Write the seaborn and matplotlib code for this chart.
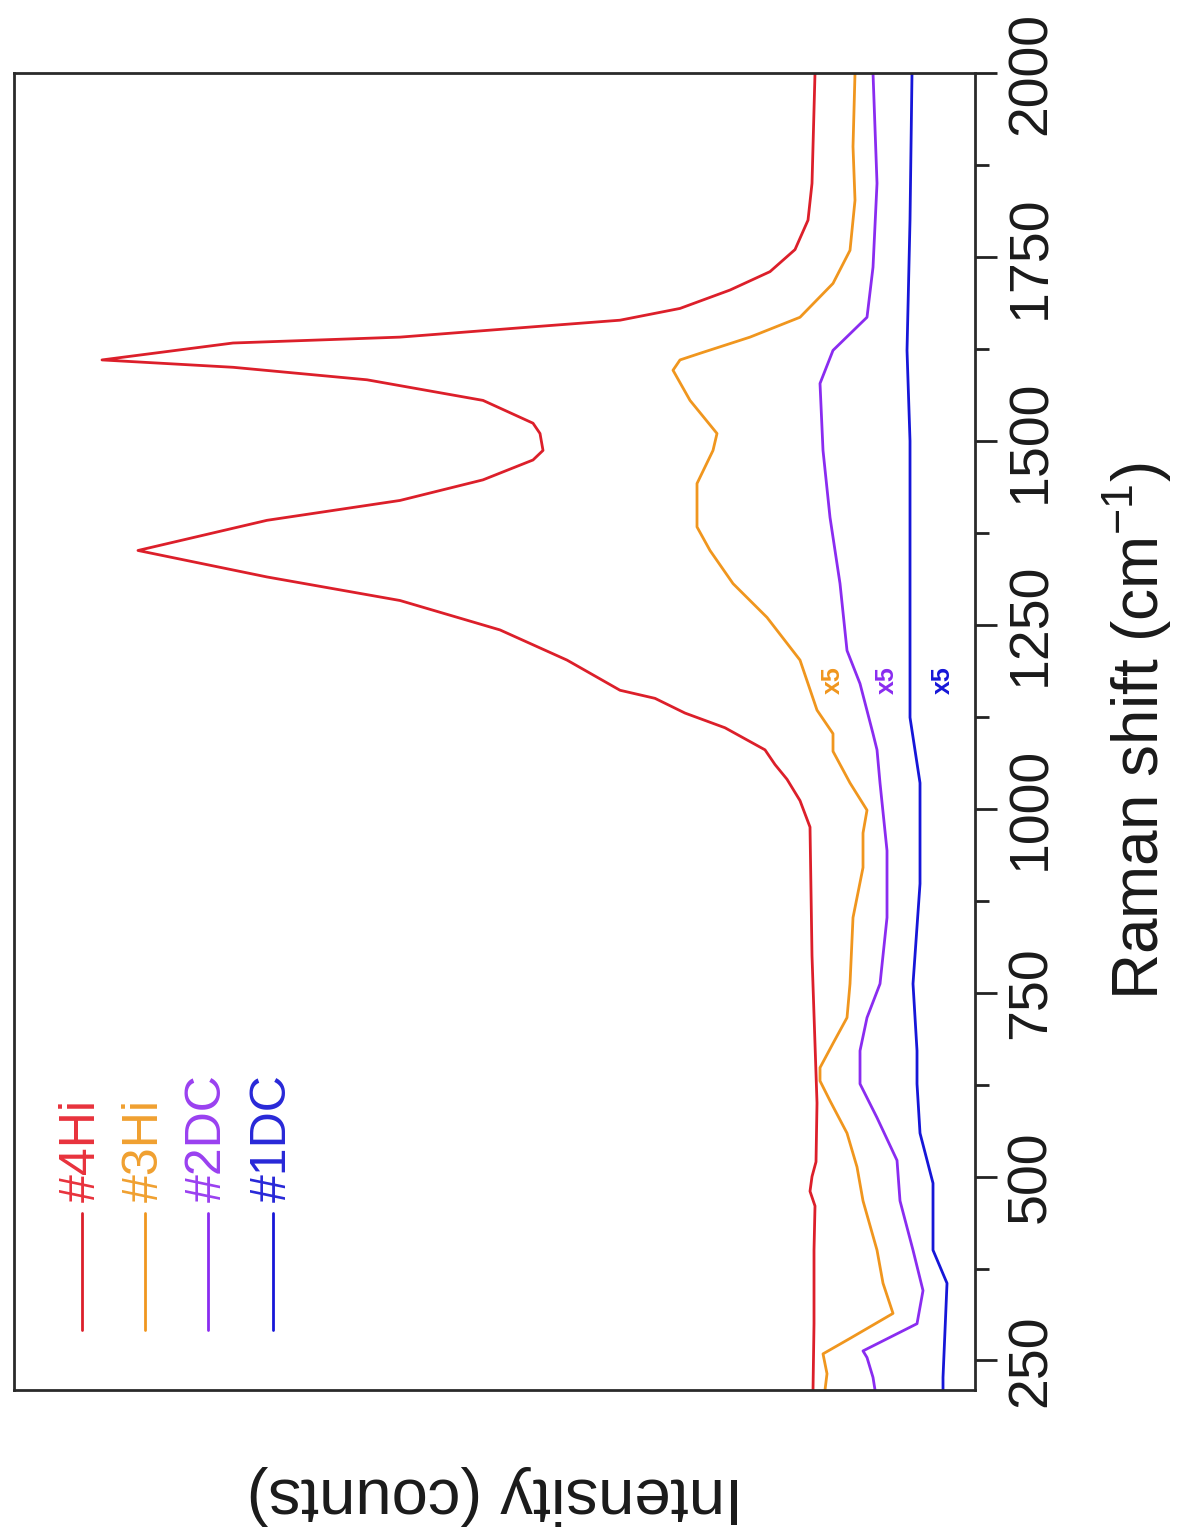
import pandas as pd
import matplotlib.pyplot as plt
import seaborn as sns
from matplotlib.lines import Line2D
from matplotlib.ticker import MultipleLocator


# ======================
# CONFIG
# ======================

sns.set_style("white")
plt.rcParams['font.family'] = ['Liberation Sans', 'DejaVu Sans']


# ======================
# DATA
# ======================

samples = ["#4Hi", "#3Hi", "#2DC", "#1DC"]
colors = ["#dc1f2a", "#f0961e", "#8a2cf0", "#1616d8"]
text_colors = ["#e8323c", "#f0a030", "#9a40f0", "#2828d8"]

raman_4hi = [210, 300, 400, 460, 480, 500, 520, 600, 800, 975, 1011, 1040,
             1060, 1080, 1110, 1130, 1150, 1161, 1202, 1243, 1283, 1315,
             1351, 1392, 1419, 1447, 1474, 1487, 1510, 1524, 1555, 1583,
             1600, 1610, 1633, 1641, 1655, 1664, 1680, 1705, 1730, 1760,
             1800, 1850, 2000]
counts_4hi = [162, 161, 161, 160, 165, 163, 159, 158, 163, 165, 175, 188,
              200, 210, 250, 290, 320, 355, 408, 475, 575, 708,
              837, 708, 575, 492, 442, 432, 435, 442, 492, 608,
              742, 873, 742, 575, 442, 355, 295, 245, 205, 180,
              167, 163, 160]

raman_3hi = [210, 232, 259, 280, 314, 355, 400, 467, 513, 559, 603, 630,
             648, 681, 716, 762, 852, 920, 967, 998, 1035, 1078, 1102,
             1134, 1202, 1260, 1306, 1351, 1383, 1442, 1487, 1510, 1555,
             1596, 1610, 1619, 1641, 1668, 1714, 1759, 1827, 1900, 2000]
counts_3hi = [150, 148, 152, 125, 82, 92, 98, 112, 118, 128, 145, 155,
              155, 142, 128, 125, 122, 112, 112, 108, 125, 142, 142,
              158, 175, 208, 242, 265, 278, 278, 262, 258, 285,
              302, 295, 275, 225, 175, 142, 125, 120, 122, 120]

raman_2dc = [210, 227, 254, 263, 300, 345, 400, 467, 522, 580, 626, 671,
             716, 762, 852, 943, 1035, 1080, 1102, 1170, 1215, 1306, 1396,
             1487, 1578, 1623, 1668, 1736, 1850, 2000]
counts_2dc = [100, 102, 108, 112, 58, 52, 62, 75, 78, 98, 115, 115,
              108, 95, 88, 88, 95, 98, 102, 115, 128, 135, 145,
              152, 155, 142, 108, 102, 98, 102]

raman_1dc = [210, 227, 355, 400, 491, 559, 626, 671, 762, 898, 1035, 1124,
             1300, 1500, 1623, 1800, 2000]
counts_1dc = [32, 32, 28, 42, 42, 55, 58, 58, 62, 55, 55, 65,
              65, 65, 68, 65, 63]

scale_label = "x5"
scale_raman = 1175
scale_counts = [142, 88, 32]

raman_ticks = [250, 500, 750, 1000, 1250, 1500, 1750, 2000]

df = pd.concat([
    pd.DataFrame({"raman": raman_4hi, "counts": counts_4hi, "sample": "#4Hi"}),
    pd.DataFrame({"raman": raman_3hi, "counts": counts_3hi, "sample": "#3Hi"}),
    pd.DataFrame({"raman": raman_2dc, "counts": counts_2dc, "sample": "#2DC"}),
    pd.DataFrame({"raman": raman_1dc, "counts": counts_1dc, "sample": "#1DC"}),
])


# ======================
# PLOT (figure is drawn turned 90 degrees)
# ======================

fig = plt.figure(figsize=(11.86, 15.37), dpi=100)
ax = fig.add_axes([0.0118, 0.0957, 0.8103, 0.8568])

sns.lineplot(
    data=df, x="counts", y="raman", hue="sample",
    hue_order=samples, palette=colors,
    orient="y", estimator=None, sort=True,
    linewidth=2.0, legend=False, ax=ax
)

ax.set_xlim(961, 0)
ax.set_ylim(210, 2000)
ax.set_xticks([])

ax.yaxis.tick_right()
ax.set_yticks(raman_ticks)
ax.yaxis.set_minor_locator(MultipleLocator(125))
ax.tick_params(axis="y", which="major", direction="out", length=16,
               width=2.0, color="#222222", labelsize=40, pad=6,
               labelrotation=90, labelcolor="#1a1a1a")
ax.tick_params(axis="y", which="minor", direction="out", length=10,
               width=2.0, color="#222222")
for lab in ax.get_yticklabels():
    lab.set_va("center")

for sp in ax.spines.values():
    sp.set_linewidth(2.0)
    sp.set_color("#2a2a2a")

ax.set_ylabel("Raman shift (cm$^{\\mathregular{-1}}$)", fontsize=46,
              color="#1a1a1a")
ax.yaxis.set_label_position("right")
ax.yaxis.set_label_coords(1.13, 0.5)

ax.set_xlabel("Intensity (counts)", fontsize=47, rotation=180,
              color="#1a1a1a")
ax.xaxis.set_label_coords(0.5, -0.057)

# scale factor notes
for c, col in zip(scale_counts, colors[1:]):
    ax.text(c, scale_raman, scale_label, color=col, fontsize=18,
            fontweight="bold", rotation=90, ha="center", va="center")

# legend (rotated like the rest)
leg_x = [0.0708, 0.136, 0.202, 0.2695]
for lx, name, col, tcol in zip(leg_x, samples, colors, text_colors):
    ax.add_line(Line2D([lx, lx], [0.0456, 0.134], transform=ax.transAxes,
                       color=col, linewidth=2.0))
    ax.text(lx, 0.143, name, transform=ax.transAxes, color=tcol,
            fontsize=36, rotation=90, ha="center", va="bottom")

plt.savefig("out.png", dpi=100)
plt.close()
